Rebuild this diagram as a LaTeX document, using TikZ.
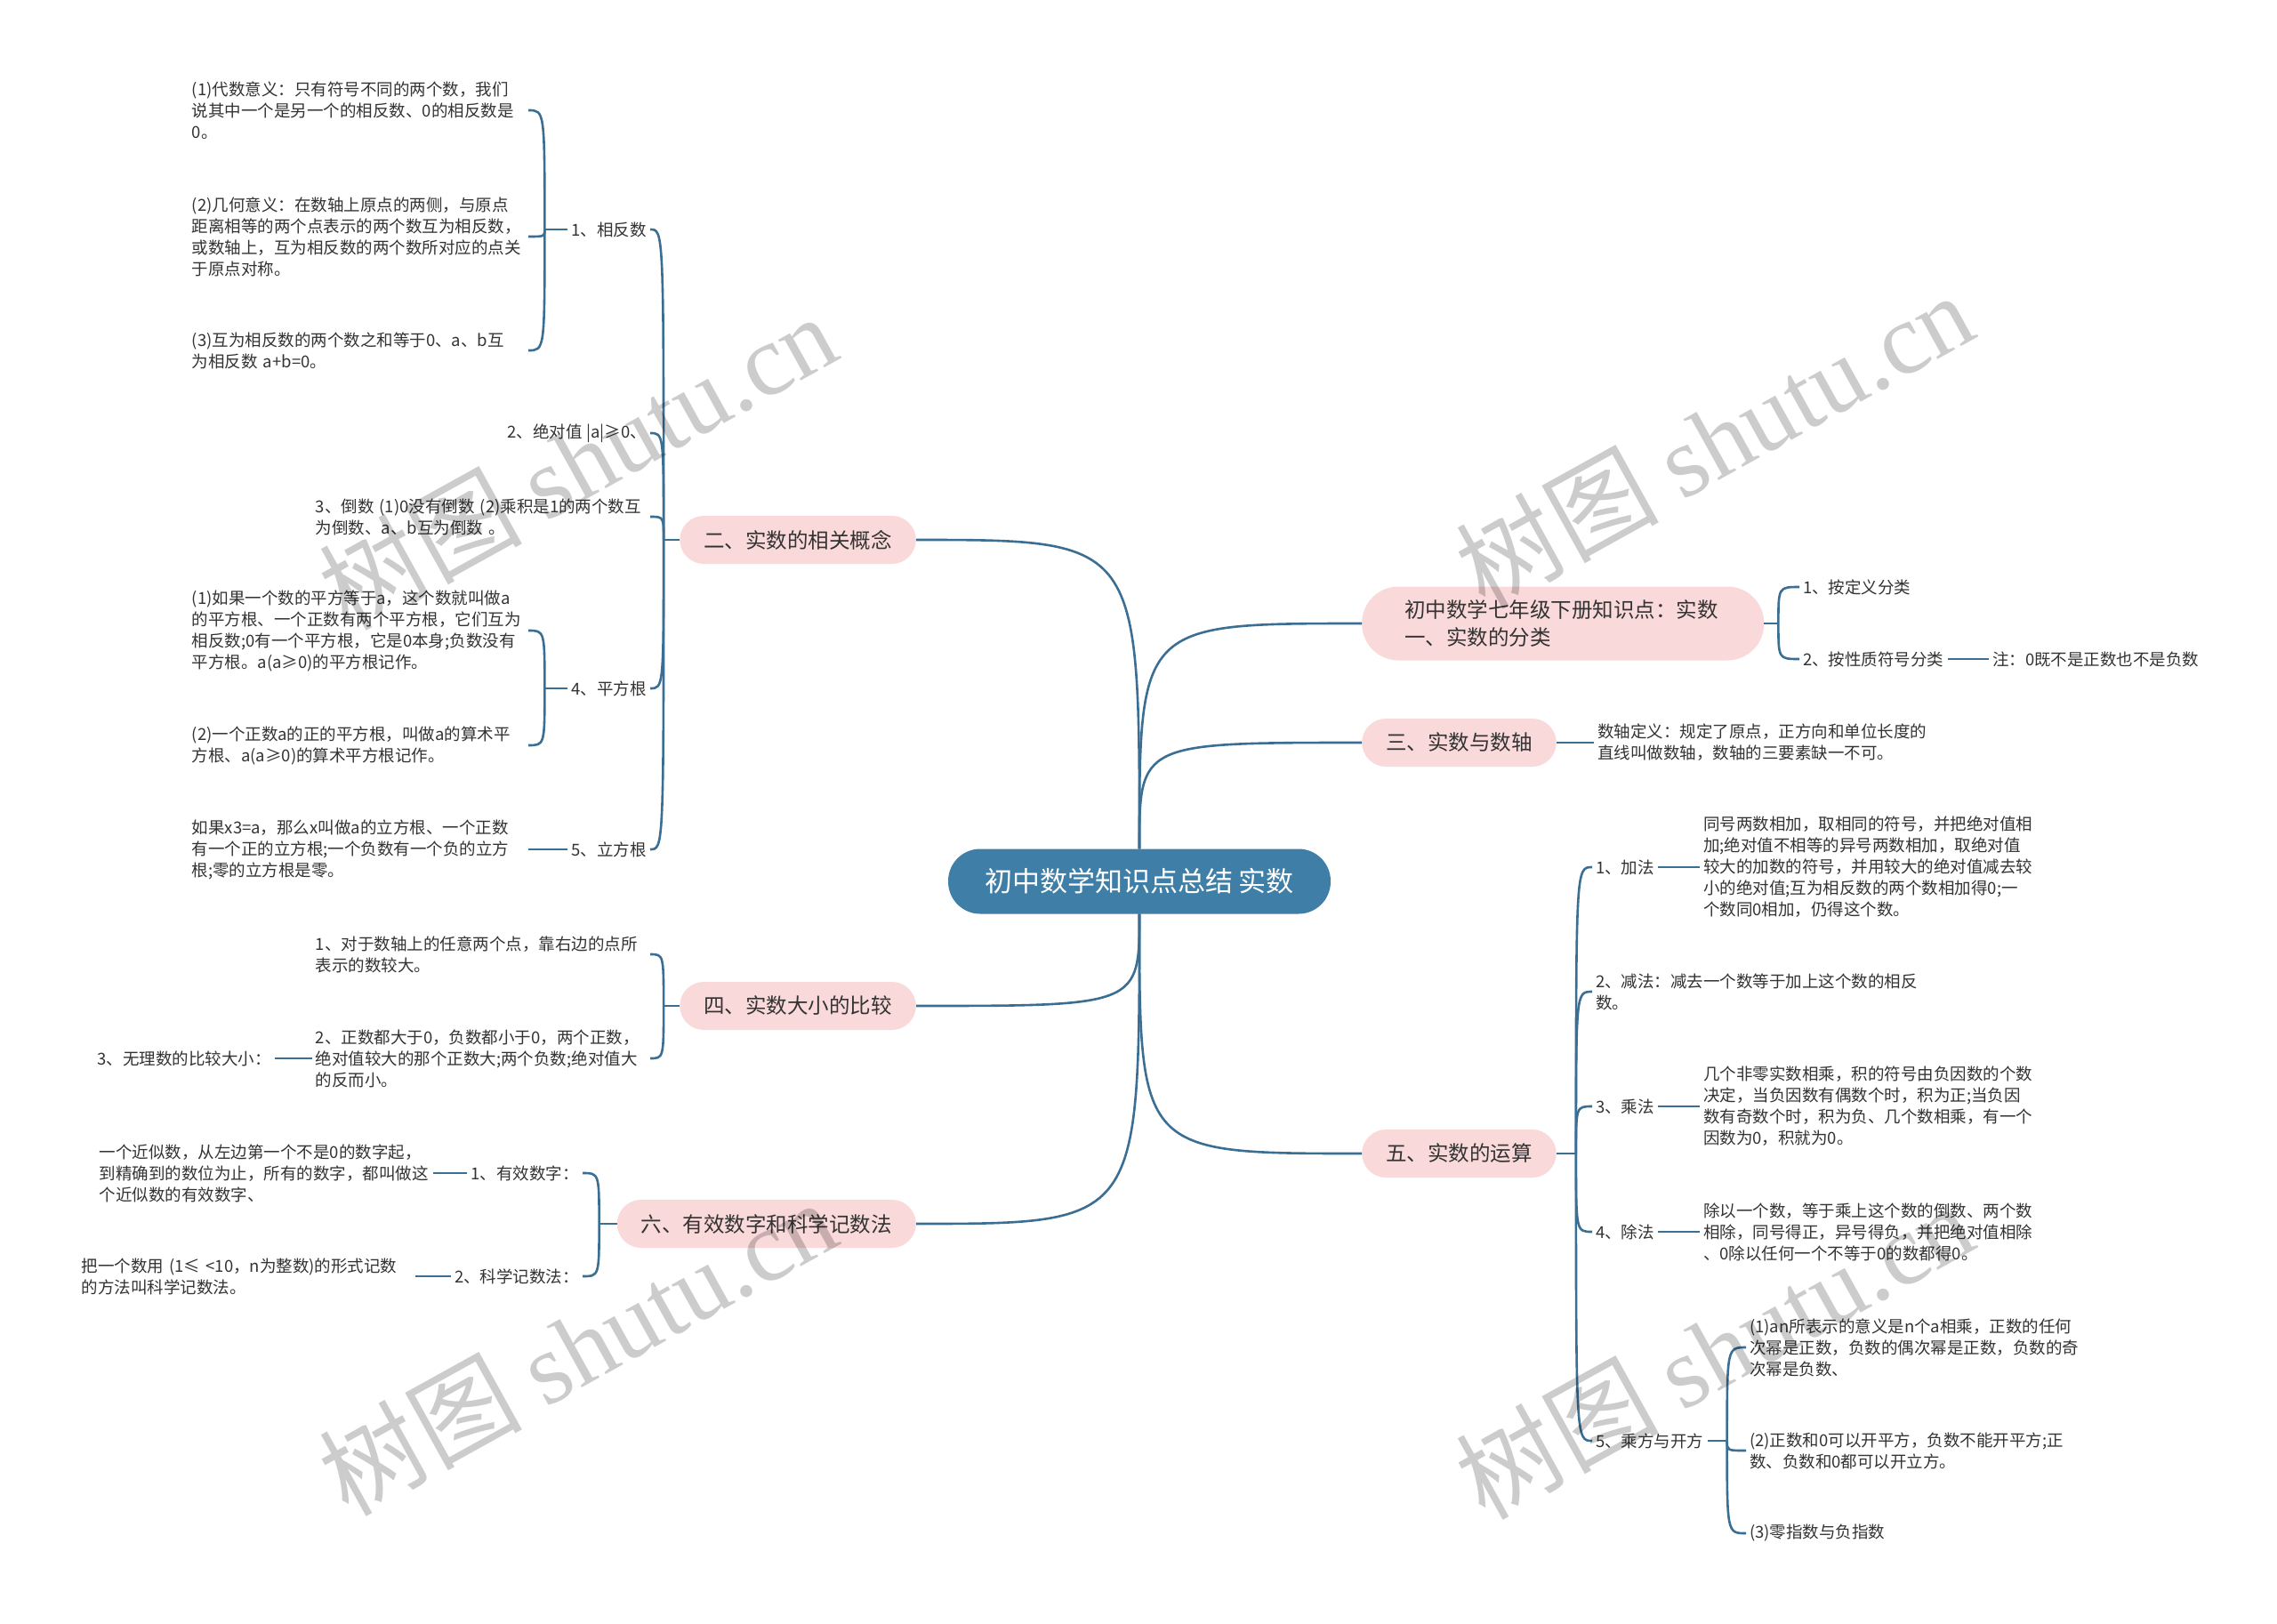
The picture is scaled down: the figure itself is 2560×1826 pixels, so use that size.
\documentclass[tikz,border=0pt]{standalone}
\usepackage{fontspec}
\setmainfont{Noto Sans CJK SC}
\newfontfamily\wmlatin{Liberation Serif}
\usepackage{tikz}
\usetikzlibrary{positioning}
\definecolor{MapBlue}{HTML}{3F7FA7}
\definecolor{MapLine}{HTML}{3A6E93}
\definecolor{MapPink}{HTML}{F9D9D9}
\definecolor{MapInk}{HTML}{333333}

\begin{document}
\begin{tikzpicture}[x=1pt, y=-1pt,
  root/.style={rounded corners=36pt, fill=MapBlue, text=white,
               minimum height=73pt, inner xsep=41pt,
               font=\fontsize{31}{36}\selectfont},
  topic/.style={rounded corners=27pt, fill=MapPink, text=MapInk,
                minimum height=54pt, inner xsep=27pt,
                font=\fontsize{23.5}{31}\selectfont},
  item/.style={text=MapInk, inner sep=4pt, align=left,
               font=\fontsize{18.5}{24}\selectfont},
  leafl/.style={item, anchor=east, text width=#1},
  leafr/.style={item, anchor=west},
  branch/.style={draw=MapLine, line width=2.6pt},
  wmark/.style={rotate=29, text=black, text opacity=0.2,
                font=\fontsize{114}{114}\selectfont}
]
\useasboundingbox (0,0) rectangle (2560,1826);
\fill[white] (0,0) rectangle (2560,1826);

\node[root] (root) at (1281,991) {初中数学知识点总结 实数};

\node[topic, anchor=east] (n2) at (1030,607) {二、实数的相关概念};
\node[topic, anchor=east] (n4) at (1030,1131) {四、实数大小的比较};
\node[topic, anchor=east] (n6) at (1030,1376) {六、有效数字和科学记数法};
\node[topic, anchor=west, rounded corners=41pt, minimum height=83pt,
      inner xsep=48pt, text width=356pt, align=left] (n1) at (1531,701)
  {初中数学七年级下册知识点：实数\\一、实数的分类};
\node[topic, anchor=west] (n3) at (1531,835) {三、实数与数轴};
\node[topic, anchor=west] (n5) at (1531,1297) {五、实数的运算};

\node[item, anchor=east] (a1) at (731,258) {1、相反数};
\node[item, anchor=east] (a2) at (731,487) {2、绝对值 |a|≥0、};
\node[leafl=372pt] (a3) at (731,581)
  {3、倒数 (1)0没有倒数 (2)乘积是1的两个数互\\为倒数、a、b互为倒数 。};
\node[item, anchor=east] (a4) at (731,774) {4、平方根};
\node[item, anchor=east] (a5) at (731,955) {5、立方根};

\node[leafl=374pt] (b1) at (594,124)
  {(1)代数意义：只有符号不同的两个数，我们\\说其中一个是另一个的相反数、0的相反数是\\0。};
\node[leafl=374pt] (b2) at (594,266)
  {(2)几何意义：在数轴上原点的两侧，与原点\\距离相等的两个点表示的两个数互为相反数，\\或数轴上，互为相反数的两个数所对应的点关\\于原点对称。};
\node[leafl=374pt] (b3) at (594,394)
  {(3)互为相反数的两个数之和等于0、a、b互\\为相反数 a+b=0。};
\node[leafl=374pt] (b4) at (594,709)
  {(1)如果一个数的平方等于a，这个数就叫做a\\的平方根、一个正数有两个平方根，它们互为\\相反数;0有一个平方根，它是0本身;负数没有\\平方根。a(a≥0)的平方根记作。};
\node[leafl=374pt] (b5) at (594,838)
  {(2)一个正数a的正的平方根，叫做a的算术平\\方根、a(a≥0)的算术平方根记作。};
\node[leafl=374pt] (b6) at (594,955)
  {如果x3=a，那么x叫做a的立方根、一个正数\\有一个正的立方根;一个负数有一个负的立方\\根;零的立方根是零。};

\node[leafl=372pt] (c1) at (731,1073)
  {1、对于数轴上的任意两个点，靠右边的点所\\表示的数较大。};
\node[leafl=372pt] (c2) at (731,1190)
  {2、正数都大于0，负数都小于0，两个正数，\\绝对值较大的那个正数大;两个负数;绝对值大\\的反而小。};
\node[item, anchor=east] (c3) at (309,1190) {3、无理数的比较大小：};

\node[item, anchor=east] (d1) at (655,1319) {1、有效数字：};
\node[item, anchor=east] (d2) at (655,1435) {2、科学记数法：};
\node[leafl=371pt] (e1) at (487,1319)
  {一个近似数，从左边第一个不是0的数字起，\\到精确到的数位为止，所有的数字，都叫做这\\个近似数的有效数字、};
\node[leafl=371pt] (e2) at (467,1435)
  {把一个数用 (1≤ <10，n为整数)的形式记数\\的方法叫科学记数法。};

\node[leafr] (f1) at (2023,660) {1、按定义分类};
\node[leafr] (f2) at (2023,741) {2、按性质符号分类};
\node[leafr] (f3) at (2236,741) {注：0既不是正数也不是负数};

\node[leafr] (g1) at (1792,835)
  {数轴定义：规定了原点，正方向和单位长度的\\直线叫做数轴，数轴的三要素缺一不可。};

\node[leafr] (h1) at (1790,975) {1、加法};
\node[leafr] (h2) at (1790,1115)
  {2、减法：减去一个数等于加上这个数的相反\\数。};
\node[leafr] (h3) at (1790,1244) {3、乘法};
\node[leafr] (h4) at (1790,1385) {4、除法};
\node[leafr] (h5) at (1790,1620) {5、乘方与开方};
\node[leafr] (i1) at (1911,975)
  {同号两数相加，取相同的符号，并把绝对值相\\加;绝对值不相等的异号两数相加，取绝对值\\较大的加数的符号，并用较大的绝对值减去较\\小的绝对值;互为相反数的两个数相加得0;一\\个数同0相加，仍得这个数。};
\node[leafr] (i3) at (1911,1244)
  {几个非零实数相乘，积的符号由负因数的个数\\决定，当负因数有偶数个时，积为正;当负因\\数有奇数个时，积为负、几个数相乘，有一个\\因数为0，积就为0。};
\node[leafr] (i4) at (1911,1385)
  {除以一个数，等于乘上这个数的倒数、两个数\\相除，同号得正，异号得负，并把绝对值相除\\、0除以任何一个不等于0的数都得0。};
\node[leafr] (k1) at (1963,1515)
  {(1)an所表示的意义是n个a相乘，正数的任何\\次幂是正数，负数的偶次幂是正数，负数的奇\\次幂是负数、};
\node[leafr] (k2) at (1963,1631)
  {(2)正数和0可以开平方，负数不能开平方;正\\数、负数和0都可以开立方。};
\node[leafr] (k3) at (1963,1724) {(3)零指数与负指数};

\draw[branch] (root.north) .. controls (root.north |- n2.east) .. (n2.east);
\draw[branch] (root.north) .. controls (root.north |- n1.west) .. (n1.west);
\draw[branch] (root.north) .. controls (root.north |- n3.west) .. (n3.west);
\draw[branch] (root.south) .. controls (root.south |- n4.east) .. (n4.east);
\draw[branch] (root.south) .. controls (root.south |- n6.east) .. (n6.east);
\draw[branch] (root.south) .. controls (root.south |- n5.west) .. (n5.west);

\draw[branch] (n2.west) -- ++(-18,0) coordinate (j2);
\draw[branch] (j2) .. controls (j2 |- a1.east) .. (a1.east);
\draw[branch] (j2) .. controls (j2 |- a2.east) .. (a2.east);
\draw[branch] (j2) .. controls (j2 |- a3.east) .. (a3.east);
\draw[branch] (j2) .. controls (j2 |- a4.east) .. (a4.east);
\draw[branch] (j2) .. controls (j2 |- a5.east) .. (a5.east);
\draw[branch] (a1.west) -- ++(-26,0) coordinate (ja1);
\draw[branch] (ja1) .. controls (ja1 |- b1.east) .. (b1.east);
\draw[branch] (ja1) .. controls (ja1 |- b2.east) .. (b2.east);
\draw[branch] (ja1) .. controls (ja1 |- b3.east) .. (b3.east);
\draw[branch] (a4.west) -- ++(-26,0) coordinate (ja4);
\draw[branch] (ja4) .. controls (ja4 |- b4.east) .. (b4.east);
\draw[branch] (ja4) .. controls (ja4 |- b5.east) .. (b5.east);
\draw[branch] (a5.west) -- (b6.east);

\draw[branch] (n4.west) -- ++(-18,0) coordinate (j4);
\draw[branch] (j4) .. controls (j4 |- c1.east) .. (c1.east);
\draw[branch] (j4) .. controls (j4 |- c2.east) .. (c2.east);
\draw[branch] (c2.west) -- (c3.east);

\draw[branch] (n6.west) -- ++(-20,0) coordinate (j6);
\draw[branch] (j6) .. controls (j6 |- d1.east) .. (d1.east);
\draw[branch] (j6) .. controls (j6 |- d2.east) .. (d2.east);
\draw[branch] (d1.west) -- (e1.east);
\draw[branch] (d2.west) -- (e2.east);

\draw[branch] (n1.east) -- ++(16,0) coordinate (j1);
\draw[branch] (j1) .. controls (j1 |- f1.west) .. (f1.west);
\draw[branch] (j1) .. controls (j1 |- f2.west) .. (f2.west);
\draw[branch] (f2.east) -- (f3.west);

\draw[branch] (n3.east) -- (g1.west);

\draw[branch] (n5.east) -- ++(22,0) coordinate (j5);
\draw[branch] (j5) .. controls (j5 |- h1.west) .. (h1.west);
\draw[branch] (j5) .. controls (j5 |- h2.west) .. (h2.west);
\draw[branch] (j5) .. controls (j5 |- h3.west) .. (h3.west);
\draw[branch] (j5) .. controls (j5 |- h4.west) .. (h4.west);
\draw[branch] (j5) .. controls (j5 |- h5.west) .. (h5.west);
\draw[branch] (h1.east) -- (i1.west);
\draw[branch] (h3.east) -- (i3.west);
\draw[branch] (h4.east) -- (i4.west);
\draw[branch] (h5.east) -- ++(22,0) coordinate (j55);
\draw[branch] (j55) .. controls (j55 |- k1.west) .. (k1.west);
\draw[branch] (j55) .. controls (j55 |- k2.west) .. (k2.west);
\draw[branch] (j55) .. controls (j55 |- k3.west) .. (k3.west);

\node[wmark] (wm1) at (649,518) {树图 {\wmlatin shutu.cn}};
\node[wmark] (wm2) at (1927,494) {树图 {\wmlatin shutu.cn}};
\node[wmark] (wm3) at (649,1514) {树图 {\wmlatin shutu.cn}};
\node[wmark] (wm4) at (1927,1518) {树图 {\wmlatin shutu.cn}};
\end{tikzpicture}
\end{document}
